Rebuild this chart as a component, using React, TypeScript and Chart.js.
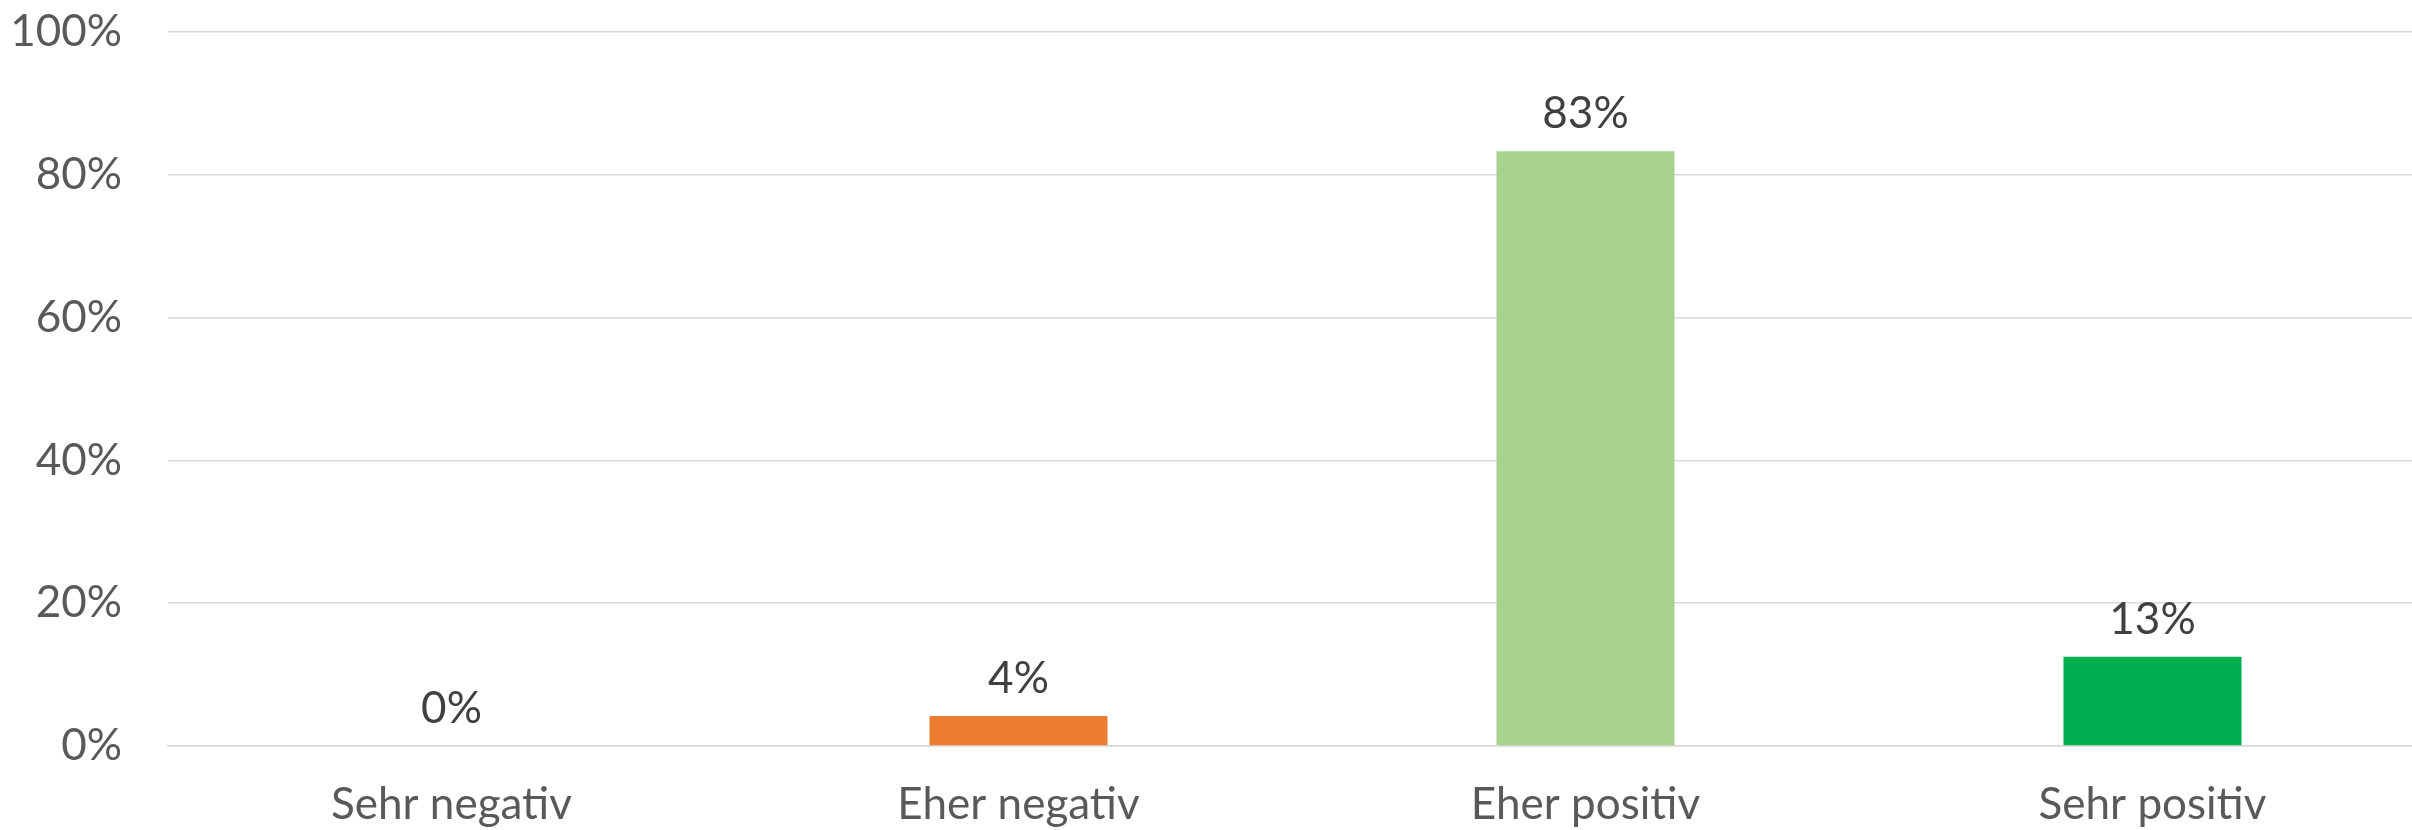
import React, { useEffect, useRef } from "react";
import { Chart, registerables } from "chart.js";

Chart.register(...registerables);

const categories = ["Sehr negativ", "Eher negativ", "Eher positiv", "Sehr positiv"];
const values = [0, 4.2, 83.3, 12.5];
const valueLabels = ["0%", "4%", "83%", "13%"];
const barColors = ["#C00000", "#ED7D31", "#A9D18E", "#00B050"];
const yTicks = [0, 20, 40, 60, 80, 100];

const FONT = "Lato, 'Open Sans', sans-serif";
const FONT_SIZE = 44;

const dataLabelPlugin = {
  id: "dataLabels",
  afterDatasetsDraw(chart: any) {
    const ctx = chart.ctx;
    const meta = chart.getDatasetMeta(0);
    ctx.save();
    ctx.font = `${FONT_SIZE}px ${FONT}`;
    ctx.fillStyle = "#404040";
    ctx.textAlign = "center";
    ctx.textBaseline = "alphabetic";
    meta.data.forEach((el: any, i: number) => {
      ctx.fillText(valueLabels[i], el.x, el.y - 23);
    });
    ctx.restore();
  },
};

export default function App() {
  const ref = useRef<HTMLCanvasElement | null>(null);
  useEffect(() => {
    if (!ref.current) return;
    const chart = new Chart(ref.current, {
      type: "bar",
      data: {
        labels: categories,
        datasets: [
          {
            data: values,
            backgroundColor: barColors,
            categoryPercentage: 1,
            barPercentage: 0.314,
          },
        ],
      },
      options: {
        responsive: false,
        animation: false,
        layout: { padding: { top: 32, left: 0, right: 0, bottom: 0 } },
        plugins: { legend: { display: false }, tooltip: { enabled: false } },
        scales: {
          x: {
            grid: { display: false, drawTicks: false },
            border: { display: true, color: "#d9d9d9", width: 1.5 },
            ticks: {
              color: "#595959",
              font: { family: FONT, size: FONT_SIZE },
              padding: 32,
            },
            afterFit: (s: any) => {
              s.height = 84;
              s.paddingLeft = 0;
              s.paddingRight = 0;
            },
          },
          y: {
            min: 0,
            max: 100,
            afterBuildTicks: (s: any) => {
              s.ticks = yTicks.map((v) => ({ value: v }));
            },
            grid: { color: "#d9d9d9", lineWidth: 1.5, drawTicks: false },
            border: { display: false },
            ticks: {
              color: "#595959",
              font: { family: FONT, size: FONT_SIZE },
              padding: 46,
              callback: (v: any) => `${v}%`,
            },
            afterFit: (s: any) => {
              s.width = 168;
              s.paddingTop = 0;
              s.paddingBottom = 0;
            },
          },
        },
      },
      plugins: [dataLabelPlugin],
    });
    return () => chart.destroy();
  }, []);
  return (
    <div
      style={{
        position: "absolute",
        left: 0,
        top: 0,
        width: 2412,
        height: 830,
        overflow: "hidden",
        background: "#fff",
      }}
    >
      <canvas ref={ref} width={2436} height={830} style={{ display: "block" }} />
    </div>
  );
}
